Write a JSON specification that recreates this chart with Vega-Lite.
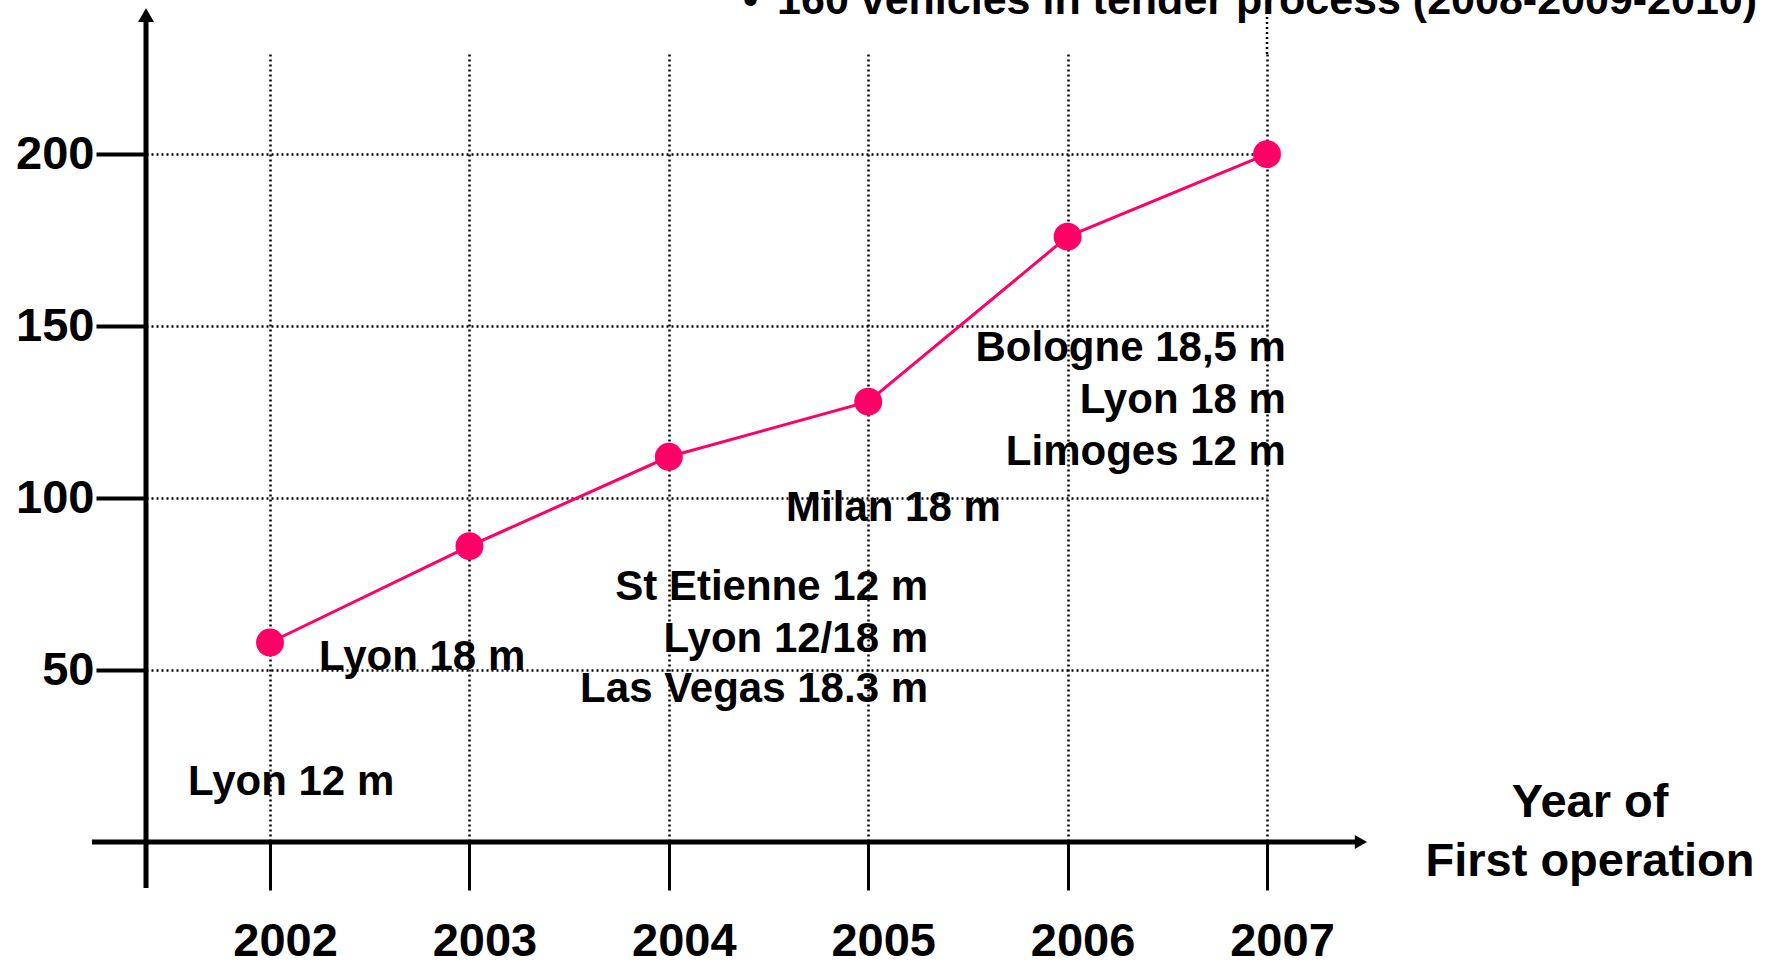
{
  "$schema": "https://vega.github.io/schema/vega-lite/v6.json",
  "autosize": "none",
  "width": 1121,
  "height": 788,
  "padding": {"left": 146, "top": 54, "right": 499, "bottom": 123},
  "background": "white",
  "config": {
    "view": {"stroke": null},
    "font": "Liberation Sans",
    "text": {"font": "Liberation Sans", "fontWeight": "bold", "color": "black"}
  },
  "datasets": {
    "series": [
      {"year": 2002, "vehicles": 58},
      {"year": 2003, "vehicles": 86},
      {"year": 2004, "vehicles": 112},
      {"year": 2005, "vehicles": 128},
      {"year": 2006, "vehicles": 176},
      {"year": 2007, "vehicles": 200}
    ],
    "notesLeft": [
      {"x": 2001.589, "y": 17.4, "label": "Lyon 12 m"},
      {"x": 2002.246, "y": 53.8, "label": "Lyon 18 m"},
      {"x": 2004.588, "y": 97.1, "label": "Milan 18 m"}
    ],
    "notesRight": [
      {"x": 2005.3, "y": 74.1, "label": "St Etienne 12 m"},
      {"x": 2005.3, "y": 59.0, "label": "Lyon 12/18 m"},
      {"x": 2005.3, "y": 44.5, "label": "Las Vegas 18.3 m"},
      {"x": 2007.095, "y": 143.6, "label": "Bologne 18,5 m"},
      {"x": 2007.095, "y": 128.5, "label": "Lyon 18 m"},
      {"x": 2007.095, "y": 113.4, "label": "Limoges 12 m"}
    ],
    "axisTitle": [
      {"x": 2008.62, "y": 11.3, "label": "Year of"},
      {"x": 2008.62, "y": -5.8, "label": "First operation"}
    ],
    "topNote": [
      {"x": 2004.543, "y": 240.7, "label": "160 vehicles in tender process (2008-2009-2010)"}
    ],
    "bullet": [
      {"x": 2004.372, "y": 240.7, "label": "•"}
    ],
    "axisLines": [
      {"x": 2001.107, "x2": 2007.46, "y": 0, "y2": 0},
      {"x": 2001.378, "x2": 2001.378, "y": -13.4, "y2": 240}
    ],
    "extraGrid": [
      {"x": 2007, "y": 229.1, "y2": 250}
    ],
    "arrowUp": [{"x": 2001.378, "y": 240.4}],
    "arrowRight": [{"x": 2007.471, "y": 0}]
  },
  "layer": [
    {
      "data": {"name": "series"},
      "mark": {"type": "line", "color": "#ff0066", "strokeWidth": 3},
      "encoding": {
        "x": {
          "field": "year", "type": "quantitative",
          "scale": {"domain": [2001.378, 2007], "nice": false, "zero": false},
          "axis": {
            "title": null, "values": [2002, 2003, 2004, 2005, 2006, 2007], "format": "d",
            "domain": false, "ticks": true, "tickSize": 48, "tickWidth": 3, "tickColor": "black",
            "labelFont": "Liberation Sans", "labelFontWeight": "bold", "labelFontSize": 47,
            "labelColor": "black", "labelOffset": 15, "labelPadding": 28, "labelFlush": false,
            "grid": true, "gridColor": "black", "gridDash": [2, 3], "gridWidth": 2.5, "gridOpacity": 1
          }
        },
        "y": {
          "field": "vehicles", "type": "quantitative",
          "scale": {"domain": [0, 229.1], "nice": false, "zero": false},
          "axis": {
            "title": null, "values": [50, 100, 150, 200],
            "domain": false, "ticks": true, "tickSize": 50, "tickWidth": 4, "tickColor": "black",
            "labelFont": "Liberation Sans", "labelFontWeight": "bold", "labelFontSize": 47,
            "labelColor": "black", "labelPadding": 2, "labelFlush": false,
            "grid": true, "gridColor": "black", "gridDash": [2, 3], "gridWidth": 2.5, "gridOpacity": 1
          }
        }
      }
    },
    {
      "data": {"name": "series"},
      "mark": {"type": "point", "filled": true, "color": "#ff0066", "size": 780, "opacity": 1},
      "encoding": {
        "x": {"field": "year", "type": "quantitative"},
        "y": {"field": "vehicles", "type": "quantitative"}
      }
    },
    {
      "data": {"name": "extraGrid"},
      "mark": {"type": "rule", "color": "black", "strokeDash": [2, 3], "strokeWidth": 2.5},
      "encoding": {
        "x": {"field": "x", "type": "quantitative"},
        "y": {"field": "y", "type": "quantitative"},
        "y2": {"field": "y2"}
      }
    },
    {
      "data": {"name": "axisLines"},
      "mark": {"type": "rule", "color": "black", "strokeWidth": 5},
      "encoding": {
        "x": {"field": "x", "type": "quantitative"},
        "x2": {"field": "x2"},
        "y": {"field": "y", "type": "quantitative"},
        "y2": {"field": "y2"}
      }
    },
    {
      "data": {"name": "arrowUp"},
      "mark": {"type": "point", "shape": "triangle-up", "filled": true, "color": "black", "size": 256, "opacity": 1},
      "encoding": {
        "x": {"field": "x", "type": "quantitative"},
        "y": {"field": "y", "type": "quantitative"}
      }
    },
    {
      "data": {"name": "arrowRight"},
      "mark": {"type": "point", "shape": "triangle-right", "filled": true, "color": "black", "size": 200, "opacity": 1},
      "encoding": {
        "x": {"field": "x", "type": "quantitative"},
        "y": {"field": "y", "type": "quantitative"}
      }
    },
    {
      "data": {"name": "notesLeft"},
      "mark": {"type": "text", "align": "left", "baseline": "middle", "fontSize": 42},
      "encoding": {
        "x": {"field": "x", "type": "quantitative"},
        "y": {"field": "y", "type": "quantitative"},
        "text": {"field": "label"}
      }
    },
    {
      "data": {"name": "notesRight"},
      "mark": {"type": "text", "align": "right", "baseline": "middle", "fontSize": 42},
      "encoding": {
        "x": {"field": "x", "type": "quantitative"},
        "y": {"field": "y", "type": "quantitative"},
        "text": {"field": "label"}
      }
    },
    {
      "data": {"name": "axisTitle"},
      "mark": {"type": "text", "align": "center", "baseline": "middle", "fontSize": 47},
      "encoding": {
        "x": {"field": "x", "type": "quantitative"},
        "y": {"field": "y", "type": "quantitative"},
        "text": {"field": "label"}
      }
    },
    {
      "data": {"name": "topNote"},
      "mark": {"type": "text", "align": "left", "baseline": "alphabetic", "fontSize": 43},
      "encoding": {
        "x": {"field": "x", "type": "quantitative"},
        "y": {"field": "y", "type": "quantitative"},
        "text": {"field": "label"}
      }
    },
    {
      "data": {"name": "bullet"},
      "mark": {"type": "text", "align": "left", "baseline": "alphabetic", "fontSize": 43},
      "encoding": {
        "x": {"field": "x", "type": "quantitative"},
        "y": {"field": "y", "type": "quantitative"},
        "text": {"field": "label"}
      }
    }
  ]
}
